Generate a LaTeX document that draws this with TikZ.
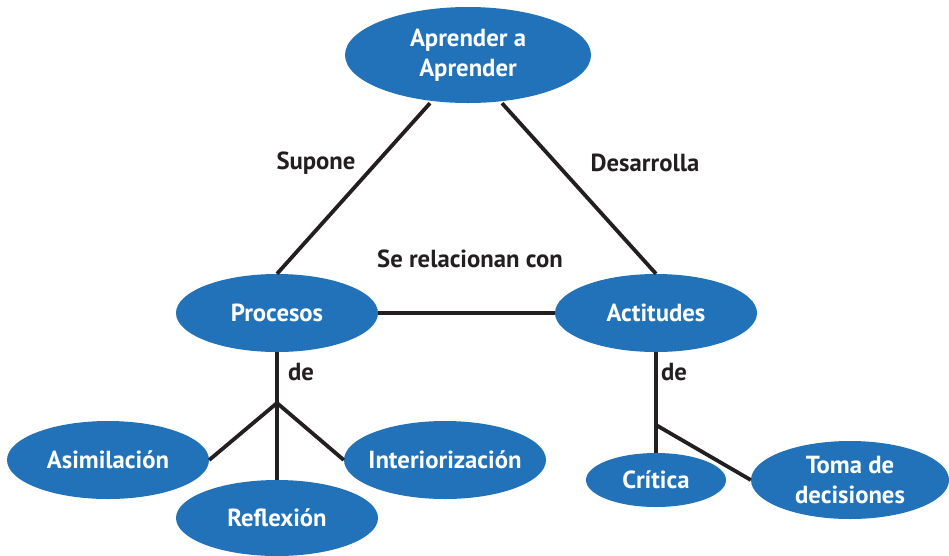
\documentclass[tikz,border=0pt]{standalone}
\usepackage{fontspec}
\setmainfont{PT Sans}
\usetikzlibrary{shapes.geometric}
\definecolor{mapblue}{RGB}{33,114,185}
\definecolor{mapink}{RGB}{35,31,32}
\begin{document}
\begin{tikzpicture}[x=1pt,y=-1pt,
  concept/.style={ellipse,fill=mapblue,text=white,inner sep=0pt,align=center,
    font=\bfseries\fontsize{24.7}{30}\selectfont},
  link/.style={mapink,line width=3.8pt},
  linktext/.style={text=mapink,font=\bfseries\fontsize{24.7}{30}\selectfont}]
\useasboundingbox (0,0) rectangle (949,555);
\draw(468,55) node[concept,minimum width=246,minimum height=96] (aprender) {Aprender a\\Aprender};
\draw(277,313) node[concept,minimum width=202,minimum height=78] (procesos) {Procesos};
\draw(656,313) node[concept,minimum width=202,minimum height=78] (actitudes) {Actitudes};
\draw(108,460) node[concept,minimum width=202,minimum height=78] (asimilacion) {Asimilación};
\draw(277,518) node[concept,minimum width=202,minimum height=76] (reflexion) {Reflexión};
\draw(445,460) node[concept,minimum width=202,minimum height=78,inner xsep=-6pt] (interior) {Interiorización};
\draw(656,480) node[concept,minimum width=140,minimum height=54] (critica) {Crítica};
\draw(850,480) node[concept,minimum width=198,minimum height=78,inner ysep=-2pt] (toma) {Toma de\\decisiones};
\coordinate (pjoin) at (277,403);
\coordinate (ajoin) at (656,425);
\draw[link] ([xshift=-38]aprender.south) -- (procesos.north);
\draw[link] ([xshift=34]aprender.south) -- (actitudes.north);
\draw[link] (procesos.east) -- (actitudes.west);
\draw[link] (procesos.south) -- (pjoin) -- (reflexion.north);
\draw[link] (asimilacion.east) -- (pjoin) -- (interior.west);
\draw[link] (actitudes.south) -- (ajoin) -- (critica.north);
\draw[link] (ajoin) -- (toma.west);
\draw(316,163) node[linktext] (supone) {Supone};
\draw(645,163) node[linktext] (desarrolla) {Desarrolla};
\draw(470,259) node[linktext] (relacion) {Se relacionan con};
\draw(301,372) node[linktext] (dep) {de};
\draw(674,372) node[linktext] (dea) {de};
\end{tikzpicture}
\end{document}
